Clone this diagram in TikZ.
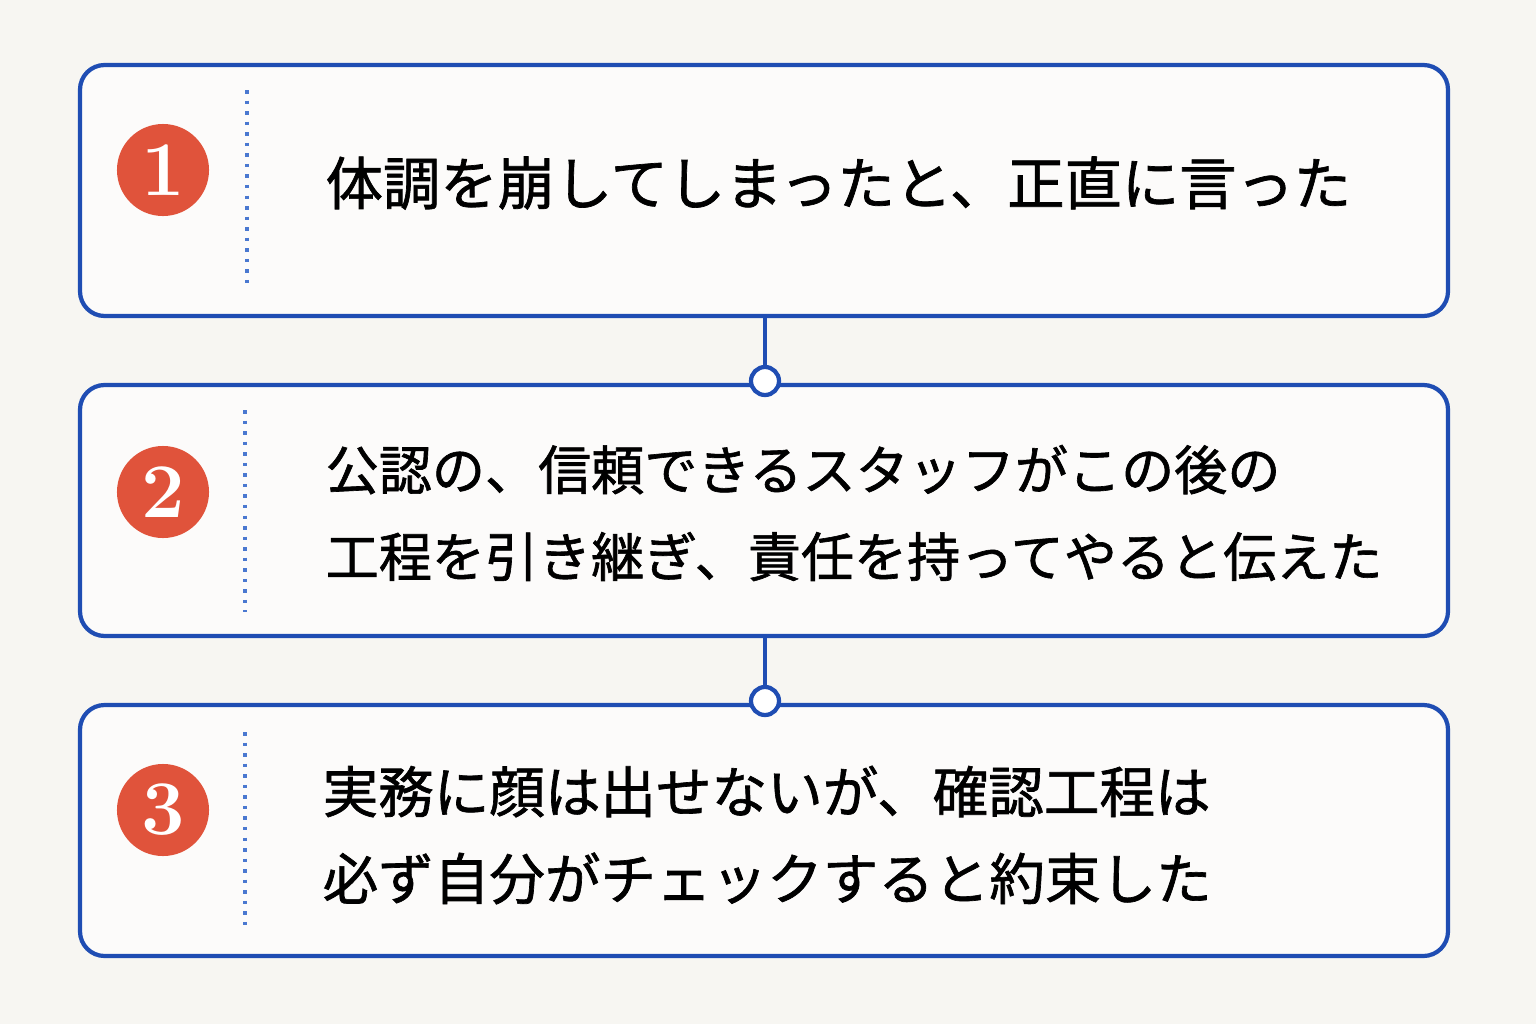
\documentclass[tikz,border=0pt]{standalone}
\usepackage{fontspec}
\newfontfamily\cjk[FakeBold=1.2]{Noto Sans CJK JP}
\usepackage{tikz}
\usetikzlibrary{positioning}
\definecolor{boxblue}{HTML}{1F4DB3}
\definecolor{dotblue}{HTML}{4A78D0}
\definecolor{badge}{HTML}{E0533B}
\definecolor{paper}{HTML}{F7F6F2}
\begin{document}
\begin{tikzpicture}[x=0.01cm,y=-0.01cm,
    stepbox/.style={draw=boxblue,line width=1.2pt,rounded corners=7pt,fill=white!60!paper},
    num/.style={circle,fill=badge,minimum size=0.92cm,inner sep=0,text=white,font=\bfseries\fontsize{22}{22}\selectfont},
    sep/.style={dotblue,line width=1pt,dotted},
    txt/.style={anchor=west,align=left,inner sep=0,font=\cjk\fontsize{15}{24.7}\selectfont},
    joint/.style={circle,draw=boxblue,line width=1.2pt,fill=white,minimum size=0.28cm,inner sep=0}]
    \fill[paper] (0,0) rectangle (1536,1024);
    % step boxes
    \draw[stepbox] (80,65) rectangle (1448,316);
    \draw[stepbox] (80,385) rectangle (1448,636);
    \draw[stepbox] (80,705) rectangle (1448,956);
    % connectors
    \coordinate (b1) at (765,316);
    \coordinate (b2) at (765,636);
    \node[joint](j1) at (765,381) {};
    \node[joint](j2) at (765,701) {};
    \draw[boxblue,line width=1.2pt] (b1) -- (j1);
    \draw[boxblue,line width=1.2pt] (b2) -- (j2);
    % badges
    \node[num](n1) at (163,170) {1};
    \node[num](n2) at (163,492) {2};
    \node[num](n3) at (163,810) {3};
    \draw[sep] (247,90) -- (247,290);
    \draw[sep] (245,410) -- (245,612);
    \draw[sep] (245,732) -- (245,932);
    % texts
    \node[txt,font=\cjk\fontsize{16.3}{24}\selectfont](t1) at (325,183) {体調を崩してしまったと、正直に言った};
    \node[txt,font=\cjk\fontsize{15.1}{24.7}\selectfont](t2) at (325,513) {公認の、信頼できるスタッフがこの後の\\工程を引き継ぎ、責任を持ってやると伝えた};
    \node[txt,font=\cjk\fontsize{15.8}{24.7}\selectfont](t3) at (322,835) {実務に顔は出せないが、確認工程は\\必ず自分がチェックすると約束した};
\end{tikzpicture}
\end{document}
